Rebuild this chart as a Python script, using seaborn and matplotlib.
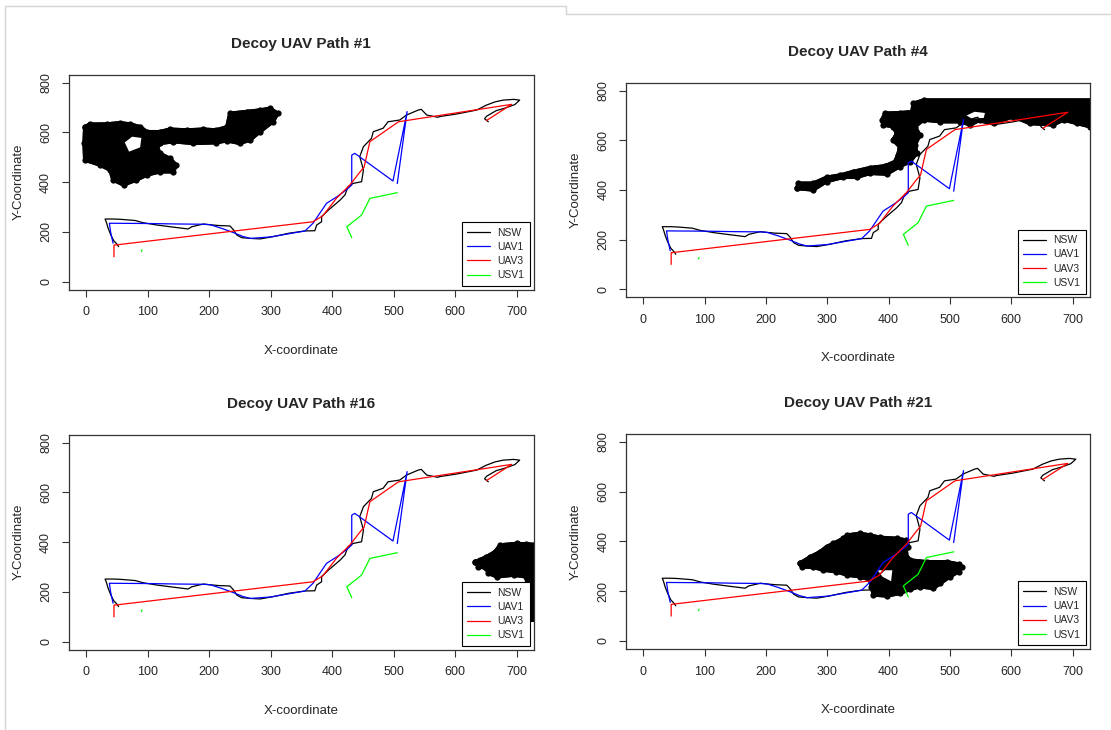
import matplotlib
matplotlib.use("Agg")
import matplotlib.pyplot as plt
from matplotlib.lines import Line2D
import seaborn as sns

# vehicle paths (same in every panel)
nsw_x = [53, 50, 45, 40, 36, 33, 31, 45, 55, 80, 93, 115, 140, 166, 172, 191, 202, 215, 234,
         240, 245, 253, 268, 283, 304, 330, 356, 372, 375, 383, 383, 395, 413, 421, 426, 434,
         448, 451, 445, 451, 464, 467, 483, 491, 510, 521, 540, 545, 554, 572, 575, 602, 635,
         651, 665, 678, 695, 705, 697, 680, 667, 651, 648, 654]
nsw_y = [141, 152, 165, 190, 215, 240, 252, 252, 251, 246, 237, 228, 220, 212, 221, 232, 229, 226, 224,
         208, 188, 177, 174, 172, 181, 195, 204, 205, 228, 241, 262, 290, 328, 349, 382, 395,
         402, 449, 503, 543, 576, 603, 617, 643, 650, 670, 690, 693, 670, 661, 664, 674, 690,
         710, 723, 730, 733, 730, 712, 697, 688, 665, 655, 643]

uav1_x = [44, 40, 38, 100, 150, 191, 202, 220, 239, 255, 267, 300, 356, 369, 391, 410, 426, 432,
          432, 437, 499, 522, 506]
uav1_y = [155, 200, 235, 234, 232, 231, 229, 215, 198, 182, 174, 180, 204, 235, 315, 345, 375, 389,
          509, 516, 405, 684, 395]

uav3_x = [45.5, 45.5, 369, 385, 407, 429, 445, 452, 461.5, 508, 692, 651]
uav3_y = [100, 147, 241, 265, 335, 389, 440, 460, 563, 643, 713, 648]

usv1_x = [432, 424, 448, 461.5, 506]
usv1_y = [177, 221, 268, 335, 358]
usv1_dot_x = [90, 91]
usv1_dot_y = [122, 128]

# decoy UAV areas (outline of the swept region)
blob1_x = [-2, 6, 34, 55, 71, 88, 99, 120, 136, 164, 191, 212, 229, 234, 261, 283, 299, 312, 304,
           283, 267, 250, 229, 212, 174, 142, 120, 115, 120, 136, 147, 142, 120, 99, 82, 61, 44,
           39, 23, -2, -3]
blob1_y = [623, 633, 634, 639, 634, 623, 603, 603, 613, 610, 613, 610, 623, 677, 684, 690, 697, 677, 643,
           603, 570, 556, 567, 559, 556, 563, 556, 529, 516, 496, 469, 442, 442, 429, 409, 389, 409,
           449, 469, 489, 556]
hole1_x = [63, 75, 90, 88, 70]
hole1_y = [560, 583, 578, 540, 523]

blob4_x = [250, 277, 299, 326, 348, 370, 397, 418, 435, 446, 443, 451, 443, 457, 484, 516, 533, 549,
           571, 603, 630, 668, 685, 707, 728, 745, 745, 457, 440, 438, 418, 394, 389, 391, 407, 413,
           407, 418, 415, 410, 394, 370, 342, 321, 299, 277, 253]
blob4_y = [406, 400, 434, 451, 451, 467, 464, 494, 514, 548, 581, 621, 655, 682, 675, 675, 662, 682,
           668, 695, 668, 662, 682, 668, 655, 655, 762, 762, 749, 715, 711, 709, 682, 662, 655, 628,
           601, 574, 541, 514, 497, 490, 474, 460, 451, 427, 427]
hole4_x = [527, 540, 557, 555, 535]
hole4_y = [700, 715, 710, 690, 688]

blob16_x = [632, 638, 651, 654, 668, 695, 716, 719, 745, 745, 716, 700, 673, 665, 651, 640]
blob16_y = [322, 302, 295, 275, 261, 268, 261, 87, 87, 389, 393, 395, 389, 362, 342, 329]

blob21_x = [255, 272, 288, 299, 310, 326, 332, 353, 370, 386, 413, 429, 432, 427, 435, 462, 495, 514,
            519, 514, 500, 484, 473, 451, 435, 418, 397, 375, 372, 370, 353, 332, 315, 293, 277, 258]
blob21_y = [312, 338, 358, 379, 392, 412, 425, 432, 425, 416, 412, 405, 379, 352, 325, 318, 318, 309,
            298, 278, 258, 231, 211, 218, 207, 191, 181, 185, 218, 245, 258, 265, 278, 285, 296, 298]
hole21_x = [382, 406, 404, 390]
hole21_y = [284, 284, 240, 258]

panels = [
    ("Decoy UAV Path #1", blob1_x, blob1_y, hole1_x, hole1_y, [0.0619, 0.6032, 0.4186, 0.2944]),
    ("Decoy UAV Path #4", blob4_x, blob4_y, hole4_x, hole4_y, [0.5635, 0.5929, 0.4175, 0.2938]),
    ("Decoy UAV Path #16", blob16_x, blob16_y, None, None, [0.0619, 0.1100, 0.4186, 0.2944]),
    ("Decoy UAV Path #21", blob21_x, blob21_y, hole21_x, hole21_y, [0.5635, 0.1110, 0.4175, 0.2948]),
]

sns.set_theme(style="white")
plt.rcParams['font.family'] = ['Liberation Sans', 'DejaVu Sans']

fig = plt.figure(figsize=(11.11, 7.30), dpi=100)
fig.patch.set_facecolor("white")

for title, bx, by, hx, hy, rect in panels:
    ax = fig.add_axes(rect)
    ax.fill(bx, by, color="black", lw=2.5, joinstyle="round", zorder=1)
    # slightly bumpy rim, like the swept thick path
    ax.plot(bx + bx[:1], by + by[:1], color="black", lw=2.5, marker="o", ms=4.5, mew=0, zorder=1)
    if hx is not None:
        ax.fill(hx, hy, color="white", lw=0, zorder=1.5)
    sns.lineplot(x=nsw_x, y=nsw_y, sort=False, estimator=None, color="black", lw=0.9, ax=ax, label="NSW")
    sns.lineplot(x=uav1_x, y=uav1_y, sort=False, estimator=None, color="#0000FF", lw=0.9, ax=ax, label="UAV1")
    sns.lineplot(x=uav3_x, y=uav3_y, sort=False, estimator=None, color="#FF0000", lw=0.9, ax=ax, label="UAV3")
    sns.lineplot(x=usv1_x, y=usv1_y, sort=False, estimator=None, color="#00FF00", lw=0.9, ax=ax, label="USV1")
    sns.lineplot(x=usv1_dot_x, y=usv1_dot_y, sort=False, estimator=None, color="#00FF00", lw=0.9, ax=ax,
                 legend=False)

    ax.set_xlim(-28, 728)
    ax.set_ylim(-32, 832)
    ax.set_xticks(range(0, 701, 100))
    ax.set_yticks(range(0, 801, 200))
    ax.tick_params(axis="both", which="both", direction="out", length=5, width=0.8,
                   color="#333333", labelsize=9, pad=7, bottom=True, left=True)
    for lab in ax.get_yticklabels():
        lab.set_rotation(90)
        lab.set_va("center")
    for s in ax.spines.values():
        s.set_color("#333333")
        s.set_linewidth(0.9)
    ax.set_title(title, fontsize=11, fontweight="bold", pad=19)
    ax.set_xlabel("X-coordinate", fontsize=9.5, labelpad=19)
    ax.set_ylabel("Y-Coordinate", fontsize=9.5, labelpad=11)

    leg = ax.legend(loc="lower right", fontsize=7.5, frameon=True, fancybox=False, edgecolor="black",
                    framealpha=1, borderpad=0.55, labelspacing=0.4, handlelength=2.2,
                    handletextpad=0.7, borderaxespad=0.35)
    leg.get_frame().set_linewidth(0.8)

# screenshot frame lines
W, H = 1111, 730
for (x0, y0, x1, y1) in [(5, 6, 566, 6), (566, 6, 566, 14), (566, 14, 1111, 14), (5, 6, 5, 730)]:
    fig.add_artist(Line2D([x0 / W, x1 / W], [1 - y0 / H, 1 - y1 / H], transform=fig.transFigure,
                          color="#d4d4d4", lw=1))

fig.savefig("out.png", dpi=100)
